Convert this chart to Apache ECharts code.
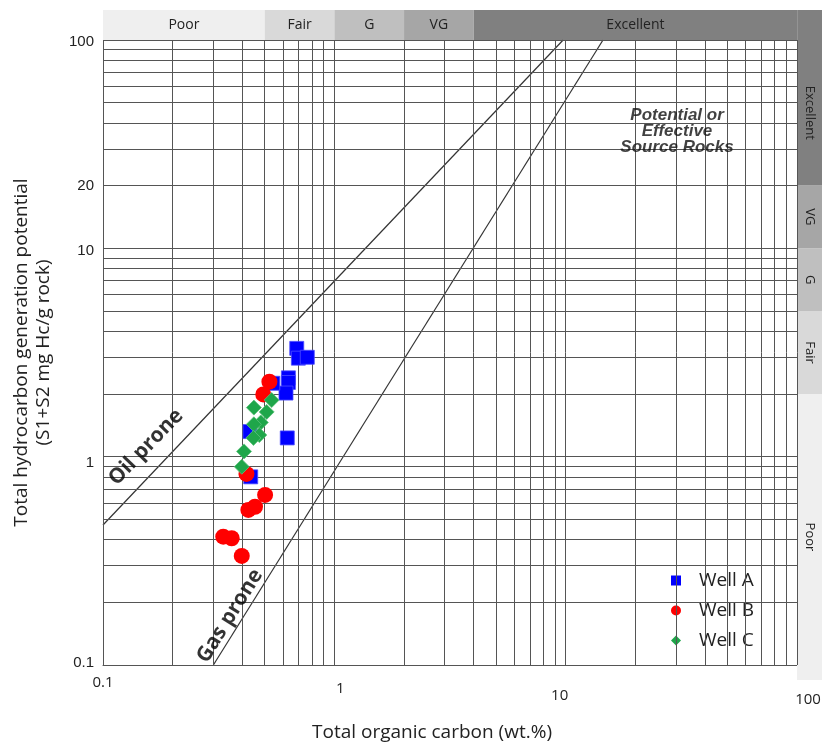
<!DOCTYPE html>
<html><head><meta charset="utf-8">
<script src="https://cdn.jsdelivr.net/npm/echarts@6/dist/echarts.min.js"></script>
<style>html,body{margin:0;padding:0;background:#fff}#c{width:822px;height:745px}</style>
</head><body><div id="c"></div>
<script>
// ---- data ----
const wellA = [[0.688,3.31],[0.699,2.97],[0.764,3.00],[0.633,2.39],[0.633,2.27],[0.618,2.02],[0.542,2.25],[0.432,1.32],[0.626,1.23],[0.435,0.80]];
const wellB = [[0.524,2.29],[0.493,1.99],[0.417,0.826],[0.502,0.655],[0.454,0.575],[0.425,0.555],[0.331,0.413],[0.36,0.406],[0.398,0.334]];
const wellC = [[0.536,1.87],[0.449,1.72],[0.51,1.64],[0.481,1.46],[0.449,1.43],[0.474,1.27],[0.447,1.23],[0.407,1.06],[0.398,0.895]];
const oilLine = [[0.1,0.47],[9.75,100]];
const gasLine = [[0.3,0.1],[14.5,100]];
const tocEdges = [0.1, 0.5, 1, 2, 4, 100, 128];
const tocClasses = ['Poor','Fair','G','VG','Excellent',''];
const s1s2Edges = [0.0847, 2, 5, 10, 20, 100];
const s1s2Classes = ['Poor','Fair','G','VG','Excellent'];
const decades = [0.1, 1, 10];
const multipliers = [1,2,3,4,5,6,7,8,9];
const xTickLabels = ['0.1','1','10','100'];
const yTickLabels = ['0.1','1','10','100'];
const yExtraLabel = 20;

// ---- styles ----
const classColors = ['#efefef','#d9d9d9','#bfbfbf','#a6a6a6','#808080','#808080'];
const gridColor = '#555555';

const gridVals = [];
decades.forEach(d => multipliers.forEach(m => gridVals.push(+(d*m).toPrecision(6))));
gridVals.push(100);

const topData = tocClasses.map((c,i) => [tocEdges[i], tocEdges[i+1], 0.5]);
const rightData = s1s2Classes.map((c,i) => [s1s2Edges[i], s1s2Edges[i+1], 0.5]);

const chart = echarts.init(document.getElementById('c'));
const option = {
  backgroundColor: '#fff',
  animation: false,
  grid: [
    {left: 103, right: 25, top: 40, bottom: 80, outerBoundsMode:'none', containLabel:false},
    {left: 103, right: 0, top: 10, height: 30, outerBoundsMode:'none', containLabel:false},
    {left: 797, right: 0, top: 40, bottom: 65, outerBoundsMode:'none', containLabel:false}
  ],
  xAxis: [
    {type:'log', logBase:10, min:0.1, max:100, gridIndex:0,
     axisLine:{show:true, lineStyle:{color:gridColor}}, axisTick:{show:false}, splitLine:{show:false},
     axisLabel:{
       margin: 10, fontFamily:'Open Sans', fontSize:15, color:'#222',
       formatter: v => { const i = Math.round(Math.log10(v)) + 1; return '{' + 'abcd'[i] + '|' + xTickLabels[i] + '}'; },
       rich: {
         a:{padding:[0,0,0,0], fontFamily:'Open Sans', fontSize:15, color:'#222'},
         b:{padding:[6,0,0,12], fontFamily:'Open Sans', fontSize:15, color:'#222'},
         c:{padding:[13,12,0,0], fontFamily:'Open Sans', fontSize:15, color:'#222'},
         d:{padding:[17,0,0,22], fontFamily:'Open Sans', fontSize:15, color:'#222'}
       }
     },
     name:'Total organic carbon (wt.%)', nameLocation:'middle', nameGap:58,
     nameTextStyle:{fontFamily:'Open Sans', fontSize:19, color:'#222', padding:[0,36,0,0]}
    },
    {type:'log', logBase:10, min:0.1, max:128, gridIndex:1, show:false},
    {type:'value', min:0, max:1, gridIndex:2, show:false}
  ],
  yAxis: [
    {type:'log', logBase:10, min:0.1, max:100, gridIndex:0,
     axisLine:{show:true, lineStyle:{color:gridColor}}, axisTick:{show:false}, splitLine:{show:false},
     axisLabel:{
       margin: 9, fontFamily:'Liberation Sans', fontSize:15, color:'#222',
       formatter: v => { const i = Math.round(Math.log10(v)) + 1; return '{' + 'abcd'[i] + '|' + yTickLabels[i] + '}'; },
       rich: {
         a:{padding:[0,0,4,0], fontFamily:'Liberation Sans', fontSize:15, color:'#222'},
         b:{padding:[12,0,0,0], fontFamily:'Liberation Sans', fontSize:15, color:'#222'},
         c:{padding:[6,0,0,0], fontFamily:'Liberation Sans', fontSize:15, color:'#222'},
         d:{padding:[4,0,0,0], fontFamily:'Liberation Sans', fontSize:15, color:'#222'}
       }
     },
     name:'Total hydrocarbon generation potential\n(S1+S2 mg Hc/g rock)', nameLocation:'middle', nameGap:48,
     nameTextStyle:{fontFamily:'Open Sans', fontSize:19, color:'#222', lineHeight:22}
    },
    {type:'value', min:0, max:1, gridIndex:1, show:false},
    {type:'log', logBase:10, min:0.0847, max:100, gridIndex:2, show:false}
  ],
  legend: {
    data:['Well A','Well B','Well C'], orient:'vertical', left:660, top:562,
    backgroundColor:'#fff', padding:[9,26,6,11], itemGap:11, itemWidth:10, itemHeight:10,
    itemStyle:{borderWidth:0},
    textStyle:{fontFamily:'Open Sans', fontSize:19, color:'#222', padding:[0,0,0,13]}
  },
  series: [
    {type:'custom', xAxisIndex:1, yAxisIndex:1, silent:true, data: topData, encode:{x:[0,1], y:2},
     renderItem: (params, api) => {
       const p0 = api.coord([api.value(0), 1]);
       const p1 = api.coord([api.value(1), 0]);
       return {type:'rect', shape:{x:p0[0], y:p0[1], width:p1[0]-p0[0], height:p1[1]-p0[1]},
         style:{fill: classColors[params.dataIndex]},
         textContent:{style:{text: tocClasses[params.dataIndex], fill:'#222', fontFamily:'Open Sans', fontSize:14}},
         textConfig:{position:'inside'}};
     }},
    {type:'custom', xAxisIndex:2, yAxisIndex:2, silent:true, data: rightData, encode:{y:[0,1], x:2},
     renderItem: (params, api) => {
       const p0 = api.coord([0, api.value(1)]);
       const p1 = api.coord([1, api.value(0)]);
       return {type:'rect', shape:{x:p0[0], y:p0[1], width:p1[0]-p0[0], height:p1[1]-p0[1]},
         style:{fill: classColors[params.dataIndex]},
         textContent:{style:{text: s1s2Classes[params.dataIndex], fill:'#222', fontFamily:'Open Sans', fontSize:13}},
         textConfig:{position:'inside', rotation:-Math.PI/2}};
     }},
    {type:'line', name:'grid', data:[[1,1]], showSymbol:false, silent:true, lineStyle:{opacity:0},
     markLine:{silent:true, symbol:['none','none'], animation:false,
       lineStyle:{color:gridColor, width:1, type:'solid'},
       label:{show:false},
       data: gridVals.map(v => ({xAxis:v})).concat(gridVals.map(v => ({yAxis:v}))).concat([
         {yAxis: yExtraLabel, label:{show:true, position:'start', formatter:String(yExtraLabel), distance:9,
          fontFamily:'Liberation Sans', fontSize:15, color:'#222'}}
       ])
     }},
    {type:'line', name:'oil', data: oilLine, showSymbol:false, silent:true, lineStyle:{color:'#333', width:1.2}},
    {type:'line', name:'gas', data: gasLine, showSymbol:false, silent:true, lineStyle:{color:'#333', width:1.2}},
    {type:'scatter', name:'Well A', data: wellA, symbol:'rect', symbolSize:14, z:5,
     itemStyle:{color:'#0000ff', borderColor:'#4d4dff', borderWidth:0.8, opacity:1}},
    {type:'scatter', name:'Well B', data: wellB, symbol:'circle', symbolSize:16, z:6,
     itemStyle:{color:'#ff0000', opacity:1}},
    {type:'scatter', name:'Well C', data: wellC, symbol:'diamond', symbolSize:[15,15], z:7,
     itemStyle:{color:'#1fa64a', borderColor:'#5cc07a', borderWidth:0.8, opacity:1}},
    {type:'scatter', name:'notes', silent:true, symbolSize:1, itemStyle:{color:'rgba(0,0,0,0)'}, z:8,
     data:[
       {value:[0.1535,1.11], label:{show:true, position:'inside', formatter:'Oil prone', rotate:46,
         fontFamily:'Open Sans', fontWeight:'bold', fontSize:21, color:'#000', textBorderWidth:0}},
       {value:[0.354,0.172], label:{show:true, position:'inside', formatter:'Gas prone', rotate:58,
         fontFamily:'Open Sans', fontWeight:'bold', fontSize:21, color:'#000', textBorderWidth:0}},
       {value:[30.3,36.6], label:{show:true, position:'inside', formatter:'Potential or\nEffective\nSource Rocks',
         fontFamily:'Liberation Sans', fontWeight:'bold', fontStyle:'italic', fontSize:17, lineHeight:16,
         color:'#111', textBorderWidth:0, align:'center'}}
     ]}
  ]
};
chart.setOption(option);
</script></body></html>
